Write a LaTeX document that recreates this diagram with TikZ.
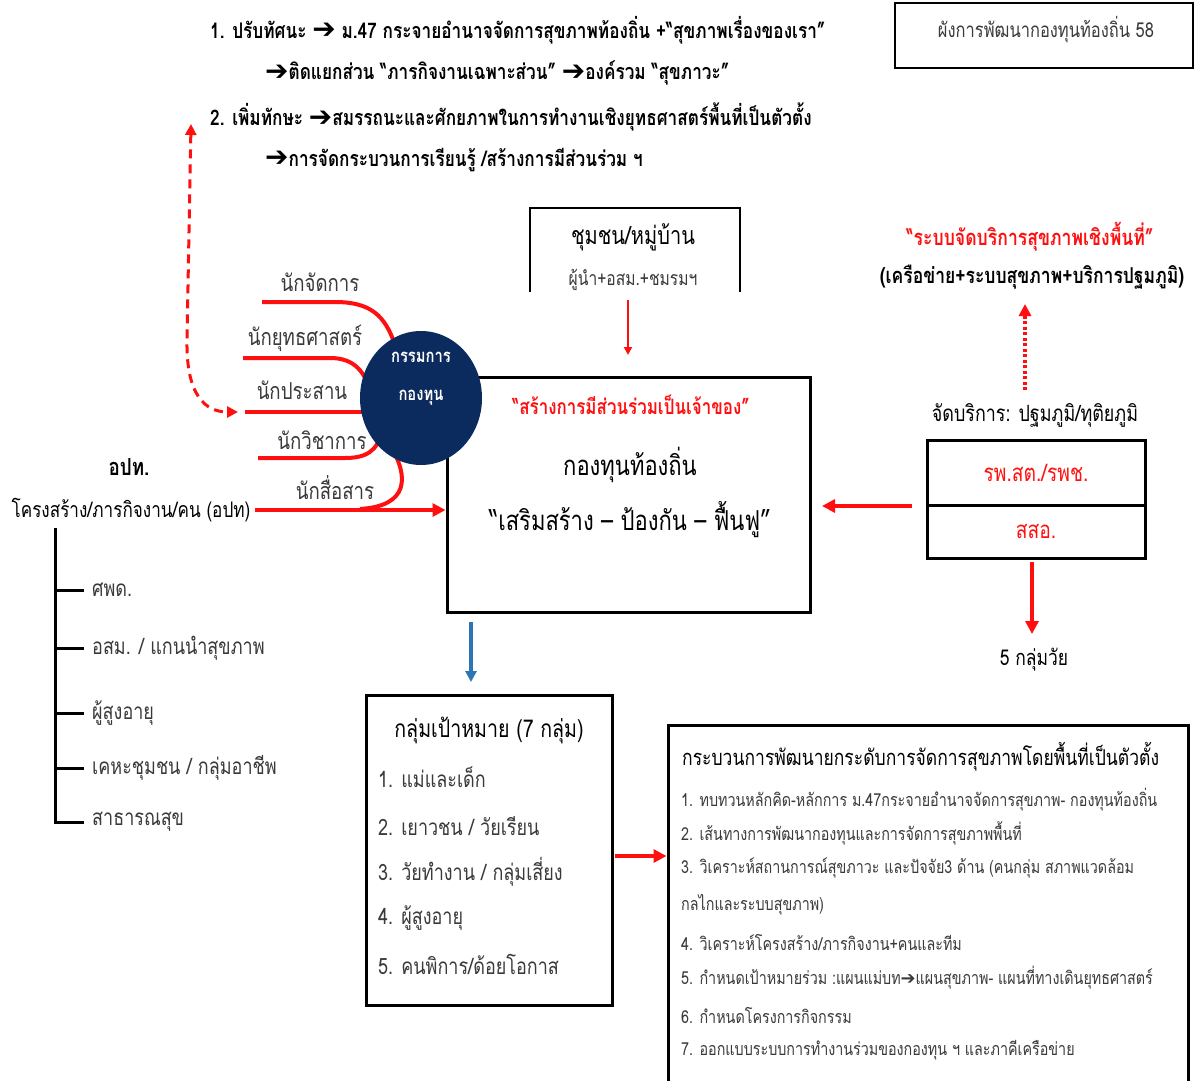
\documentclass[tikz,border=0pt]{standalone}
\usepackage{fontspec}
\newfontfamily\thai[Script=Thai, FakeStretch=0.8]{Loma}
\newfontfamily\sym{DejaVu Sans}
\usetikzlibrary{arrows.meta,shapes.geometric}
\newcommand\arr{\raisebox{-0.5pt}{\scalebox{1.3}{\sym\bfseries ➔}}}
\definecolor{navy}{HTML}{0B2A5E}
\definecolor{txtgray}{HTML}{3A3A3A}
\definecolor{bluearr}{HTML}{2E75B6}
\definecolor{myred}{HTML}{FF1010}
\begin{document}
\begin{tikzpicture}[x=1pt,y=-1pt,
  tx/.style={font=\thai, inner sep=0pt, text=black},
  topline/.style={tx, font=\thai\bfseries\fontsize{21.5}{24}\selectfont, anchor=west},
  role/.style={tx, font=\thai\fontsize{23.3}{26}\selectfont, text=txtgray},
  treelab/.style={tx, font=\thai\fontsize{22.5}{26}\selectfont, text=txtgray, anchor=west},
  titem/.style={tx, font=\thai\fontsize{22.5}{26}\selectfont, text=txtgray, anchor=west},
  pitem/.style={tx, font=\thai\fontsize{17.9}{20}\selectfont, text=txtgray, anchor=west},
  thickbox/.style={draw=black, line width=3pt, fill=white},
  redline/.style={draw=myred, line width=4pt},
  redarrow/.style={draw=myred, line width=4pt, -{Triangle[length=13pt,width=13pt]}},
  thinred/.style={draw=myred, line width=2pt, -{Triangle[length=8pt,width=8pt]}},
]
\useasboundingbox (0,0) rectangle (1194,1081);
\fill[white] (0,0) rectangle (1194,1081);

% ---------- top right title box
\node[draw=black, line width=1.5pt, minimum width=298pt, minimum height=65pt, inner sep=0pt] (titlebox) at (1044,35.5) {};
\node[tx, font=\thai\fontsize{20.6}{22}\selectfont, text=txtgray] (title) at (1046,30) {ผังการพัฒนากองทุนท้องถิ่น 58};

% ---------- top text lines
\node[topline] (l1) at (210,30) {1. ปรับทัศนะ \arr{} ม.47 กระจายอำนาจจัดการสุขภาพท้องถิ่น +“สุขภาพเรื่องของเรา”};
\node[topline] (l2) at (265,73) {\arr ติดแยกส่วน “ภารกิจงานเฉพาะส่วน” \arr องค์รวม “สุขภาวะ”};
\node[topline] (l3) at (210,117) {2. เพิ่มทักษะ \arr สมรรถนะและศักยภาพในการทำงานเชิงยุทธศาสตร์พื้นที่เป็นตัวตั้ง};
\node[topline] (l4) at (265,160) {\arr การจัดกระบวนการเรียนรู้ /สร้างการมีส่วนร่วม ฯ};

% ---------- dashed red double arrow
\coordinate (dtop) at (191,124);
\coordinate (dbot) at (238,412);
\draw[draw=myred, line width=3pt, dash pattern=on 9pt off 6pt, {Triangle[length=11pt,width=11pt]}-{Triangle[length=11pt,width=11pt]}]
  (dtop) -- (187,340) .. controls (186,395) and (205,412) .. (dbot);

% ---------- community box
\node[minimum width=210pt, minimum height=84pt, inner sep=0pt] (cbox) at (635,250) {};
\draw[line width=1.5pt] (cbox.south west) -- (cbox.north west) -- (cbox.north east) -- (cbox.south east);
\node[tx, font=\thai\fontsize{25}{27}\selectfont] (ctitle) at (633,237) {ชุมชน/หมู่บ้าน};
\node[tx, font=\thai\fontsize{19.5}{22}\selectfont, text=txtgray] (csub) at (633,280) {ผู้นำ+อสม.+ชมรมฯ};

% ---------- main box
\node[thickbox, minimum width=363pt, minimum height=235pt, inner sep=0pt] (main) at (628.5,494.5) {};
\node[tx, font=\thai\bfseries\fontsize{21.2}{24}\selectfont, text=myred] (mred) at (631,405) {“สร้างการมีส่วนร่วมเป็นเจ้าของ”};
\node[tx, font=\thai\fontsize{27.5}{30}\selectfont] (mfund) at (630,465) {กองทุนท้องถิ่น};
\node[tx, font=\thai\fontsize{27.5}{30}\selectfont] (mslog) at (630,520) {“เสริมสร้าง – ป้องกัน – ฟื้นฟู”};

\coordinate (carrS) at (628,300);
\coordinate (carrE) at (628,355);
\draw[thinred] (carrS) -- (carrE);

% ---------- roles and red lines
\node[role] (r1) at (320,282) {นักจัดการ};
\node[role] (r2) at (305,338) {นักยุทธศาสตร์};
\node[role] (r3) at (302,390) {นักประสาน};
\node[role] (r4) at (322,440) {นักวิชาการ};
\node[role] (r5) at (335,488) {นักสื่อสาร};

\node[tx, font=\thai\bfseries\fontsize{23.5}{26}\selectfont] (opt) at (129,467) {อปท.};
\node[tx, font=\thai\fontsize{21.4}{24}\selectfont] (opt2) at (131,510) {โครงสร้าง/ภารกิจงาน/คน (อปท)};

\draw[redline] (262,302) -- (335,302) .. controls (370,302) and (385,315) .. (395,345);
\draw[redline] (243,358) -- (330,358) .. controls (355,358) and (365,372) .. (372,395);
\draw[redline] (245,412) -- (385,412);
\draw[redline] (258,458) -- (345,458) .. controls (365,458) and (378,452) .. (382,430);
\draw[redline] (390,445) .. controls (410,478) and (408,506) .. (360,509);
\coordinate (optS) at (255,510);
\draw[redarrow] (optS) -- (main.west |- optS);

% ---------- committee circle
\node[ellipse, fill=navy, minimum width=122pt, minimum height=134pt, inner sep=0pt] (comm) at (421,398) {};
\node[tx, font=\thai\bfseries\fontsize{18.5}{20}\selectfont, text=white] (comm1) at (421,357) {กรรมการ};
\node[tx, font=\thai\bfseries\fontsize{18.5}{20}\selectfont, text=white] (comm2) at (421,398) {กองทุน};

% ---------- tree
\node[treelab] (t1) at (92,590) {ศพด.};
\node[treelab] (t2) at (92,648) {อสม. / แกนนำสุขภาพ};
\node[treelab] (t3) at (92,713) {ผู้สูงอายุ};
\node[treelab] (t4) at (92,768) {เคหะชุมชน / กลุ่มอาชีพ};
\node[treelab] (t5) at (92,822) {สาธารณสุข};
\coordinate (trunk) at (55,528);
\draw[line width=3pt] (trunk) |- ([xshift=-8pt]t5.west);
\foreach \n in {t1,t2,t3,t4}{
  \draw[line width=3pt] (trunk |- \n.west) -- ([xshift=-8pt]\n.west);
}

% ---------- right side
\node[tx, font=\thai\bfseries\fontsize{22}{24}\selectfont, text=myred] (sysred) at (1030,237) {“ระบบจัดบริการสุขภาพเชิงพื้นที่”};
\node[tx, font=\thai\bfseries\fontsize{21.9}{24}\selectfont] (sysblk) at (1032,277) {(เครือข่าย+ระบบสุขภาพ+บริการปฐมภูมิ)};
\node[tx, font=\thai\fontsize{22.4}{24}\selectfont] (serv) at (1035,415) {จัดบริการ: ปฐมภูมิ/ทุติยภูมิ};
\coordinate (dotS) at (1025,390);
\coordinate (dotE) at (1025,304);
\draw[draw=myred, line width=4pt, dash pattern=on 3pt off 2.5pt, -{Triangle[length=12pt,width=12pt]}] (dotS) -- (dotE);

\node[thickbox, minimum width=218pt, minimum height=65pt, inner sep=0pt, font=\thai\fontsize{24}{26}\selectfont, text=myred] (rp) at (1036,472.5) {รพ.สต./รพช.};
\node[thickbox, minimum width=218pt, minimum height=53pt, inner sep=0pt, font=\thai\fontsize{24}{26}\selectfont, text=myred] (sso) at (1036,531.5) {สสอ.};
\coordinate (rpL) at (912,506);
\coordinate (mainR) at (822,506);
\draw[redarrow] (rpL) -- (mainR);
\node[tx, font=\thai\fontsize{21.8}{24}\selectfont] (age) at (1034,660) {5 กลุ่มวัย};
\coordinate (ageS) at (1032,562);
\coordinate (ageE) at (1032,634);
\draw[redarrow] (ageS) -- (ageE);

% ---------- target group box
\node[thickbox, minimum width=246pt, minimum height=310pt, inner sep=0pt] (tbox) at (489,850) {};
\coordinate (bS) at (471,622);
\coordinate (bE) at (471,682);
\draw[line width=3.5pt, draw=bluearr, -{Triangle[length=11pt,width=11pt]}] (bS) -- (bE);
\node[tx, font=\thai\fontsize{24.5}{26}\selectfont] (ttitle) at (489,730) {กลุ่มเป้าหมาย (7 กลุ่ม)};
\node[titem] (g1) at (378,777) {1. แม่และเด็ก};
\node[titem] (g2) at (378,826) {2. เยาวชน / วัยเรียน};
\node[titem] (g3) at (378,872) {3. วัยทำงาน / กลุ่มเสี่ยง};
\node[titem] (g4) at (378,918) {4. ผู้สูงอายุ};
\node[titem] (g5) at (378,964) {5. คนพิการ/ด้อยโอกาส};

% ---------- process box
\node[thickbox, minimum width=520pt, minimum height=370pt, inner sep=0pt] (pbox) at (928,910) {};
\coordinate (pa) at (615,856);
\draw[redarrow] (pa) -- (pbox.west |- pa);
\node[tx, font=\thai\fontsize{21.9}{24}\selectfont, anchor=west] (ptitle) at (682,757) {กระบวนการพัฒนายกระดับการจัดการสุขภาพโดยพื้นที่เป็นตัวตั้ง};
\node[pitem] (p1) at (681,800) {1. ทบทวนหลักคิด-หลักการ ม.47กระจายอำนาจจัดการสุขภาพ- กองทุนท้องถิ่น};
\node[pitem] (p2) at (681,833) {2. เส้นทางการพัฒนากองทุนและการจัดการสุขภาพพื้นที่};
\node[pitem] (p3) at (681,868) {3. วิเคราะห์สถานการณ์สุขภาวะ และปัจจัย3 ด้าน (คนกลุ่ม สภาพแวดล้อม};
\node[pitem] (p3b) at (681,905) {กลไกและระบบสุขภาพ)};
\node[pitem] (p4) at (681,942) {4. วิเคราะห์โครงสร้าง/ภารกิจงาน+คนและทีม};
\node[pitem] (p5) at (681,978) {5. กำหนดเป้าหมายร่วม :แผนแม่บท{\sym ➔}แผนสุขภาพ- แผนที่ทางเดินยุทธศาสตร์};
\node[pitem] (p6) at (681,1015) {6. กำหนดโครงการกิจกรรม};
\node[pitem] (p7) at (681,1050) {7. ออกแบบระบบการทำงานร่วมของกองทุน ฯ และภาคีเครือข่าย};
\end{tikzpicture}
\end{document}
